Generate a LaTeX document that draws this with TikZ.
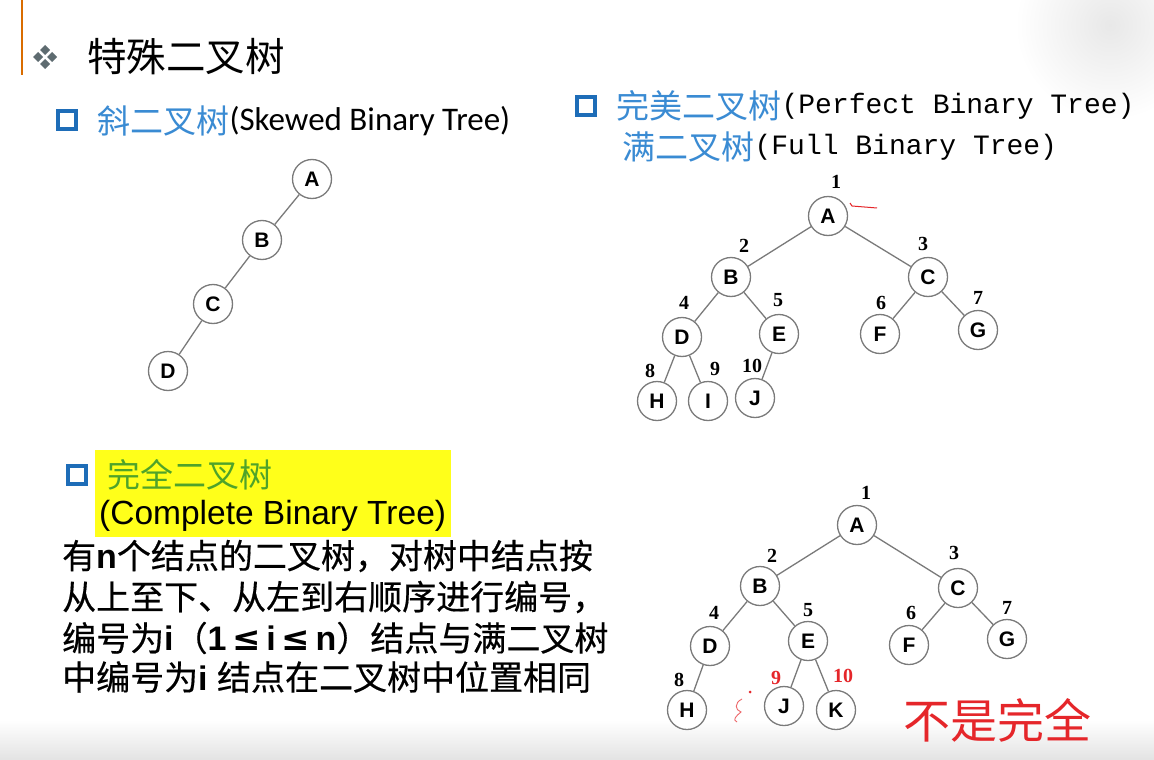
\documentclass[tikz,border=0pt]{standalone}
\usepackage{fontspec}
\usetikzlibrary{calc}
\setmainfont{Liberation Sans}
\newfontfamily\cjk{Noto Sans CJK SC}
\newfontfamily\cjkheavy{Noto Sans CJK SC}[FakeBold=0.45]
\newfontfamily\symf{DejaVu Sans}
\newfontfamily\monof{Liberation Mono}
\newfontfamily\numf{Liberation Serif}
\newfontfamily\calib{Carlito}
\definecolor{headblue}{HTML}{3A8BD3}
\definecolor{boxblue}{HTML}{1E6DB8}
\definecolor{leafgreen}{HTML}{4FA32A}
\definecolor{hilite}{HTML}{FFFF1A}
\definecolor{markred}{HTML}{E5262A}
\definecolor{ringgray}{HTML}{7A7A7A}
\definecolor{bulletgray}{HTML}{5E6B70}
\newcommand{\lat}[1]{{\fontspec{Liberation Sans}\bfseries #1}}
\newcommand{\lesym}{{\symf\bfseries ≤}}
\tikzset{
  tn/.style={circle, draw=ringgray, line width=1.3pt, fill=white,
    minimum size=39pt, inner sep=0pt,
    font=\bfseries\fontsize{21}{21}\selectfont},
  link/.style={draw=ringgray, line width=1.3pt},
  num/.style={inner sep=0pt, font=\numf\bfseries\fontsize{20}{20}\selectfont},
  rednum/.style={num, text=markred},
  sqbox/.style={draw=boxblue, line width=3.6pt, fill=white},
  cjkhead/.style={anchor=west, inner sep=0pt, text=headblue,
    font=\cjk\fontsize{33}{33}\selectfont},
  body/.style={anchor=west, inner sep=0pt,
    font=\cjkheavy\fontsize{34}{34}\selectfont},
}
\begin{document}
\begin{tikzpicture}[x=1pt,y=-1pt]
\useasboundingbox (0,0) rectangle (1154,760);
\fill[white] (0,0) rectangle (1154,760);
% soft grey margins of the slide
\shade[top color=white, bottom color=gray!22] (0,720) rectangle (1154,760);
\shade[inner color=gray!18, outer color=white] (1110,25) circle (95);

% title bar
\draw[draw=orange!85!black, line width=2pt] (22,0) -- (22,75);
\foreach \dx/\dy in {0/-7,-7/0,7/0,0/7}
  \fill[bulletgray] ($(45,57)+(\dx,\dy)$) +(0,-5) -- +(5,0) -- +(0,5) -- +(-5,0) -- cycle;
\node[anchor=west, inner sep=0pt, font=\cjk\fontsize{39.5}{39.5}\selectfont] (title) at (87,57) {特殊二叉树};

% skewed binary tree
\draw[sqbox] (58,111) rectangle (76,129);
\node[cjkhead] (skh) at (97,121) {斜二叉树};
\node[anchor=west, inner sep=0pt, font=\calib\fontsize{33}{33}\selectfont] (ske) at (skh.east) {(Skewed Binary Tree)};

\node[tn] (sA) at (312,179) {A};
\node[tn] (sB) at (262,240) {B};
\node[tn] (sC) at (213,304) {C};
\node[tn] (sD) at (168,371) {D};
\draw[link] (sA) -- (sB);
\draw[link] (sB) -- (sC);
\draw[link] (sC) -- (sD);

% perfect / full binary tree
\draw[sqbox] (577,97) rectangle (595,115);
\node[cjkhead] (pfh) at (616,106) {完美二叉树};
\node[anchor=west, inner sep=0pt, font=\monof\fontsize{28}{28}\selectfont] (pfe) at (pfh.east) {(Perfect Binary Tree)};
\node[cjkhead] (flh) at (622,147) {满二叉树};
\node[anchor=west, inner sep=0pt, font=\monof\fontsize{28}{28}\selectfont] (fle) at (flh.east) {(Full Binary Tree)};

\node[tn] (pA) at (828,216) {A};
\node[tn] (pB) at (731,277) {B};
\node[tn] (pC) at (928,277) {C};
\node[tn] (pD) at (682,337) {D};
\node[tn] (pE) at (779,334) {E};
\node[tn] (pF) at (880,334) {F};
\node[tn] (pG) at (978,330) {G};
\node[tn] (pH) at (657,401) {H};
\node[tn] (pI) at (708,401) {I};
\node[tn] (pJ) at (755,398) {J};
\foreach \a/\b in {pA/pB,pA/pC,pB/pD,pB/pE,pC/pF,pC/pG,pD/pH,pD/pI,pE/pJ}
  \draw[link] (\a) -- (\b);
\node[num] (pn1) at (836,182) {1};
\node[num] (pn2) at (744,246) {2};
\node[num] (pn3) at (923,244) {3};
\node[num] (pn4) at (684,303) {4};
\node[num] (pn5) at (778,300) {5};
\node[num] (pn6) at (881,303) {6};
\node[num] (pn7) at (978,298) {7};
\node[num] (pn8) at (650,371) {8};
\node[num] (pn9) at (715,369) {9};
\node[num] (pn10) at (752,366) {10};
% hand-drawn pointer beside the root
\coordinate (ptrA) at (852,206);
\coordinate (ptrB) at (877,208);
\draw[markred, line width=1pt] ($(ptrA)+(-2,-3)$) -- (ptrA) -- (ptrB);

% complete binary tree
\fill[hilite] (95,450) rectangle (451,537);
\draw[sqbox] (68,466) rectangle (86,484);
\node[cjkhead, text=leafgreen] (cph) at (107,475) {完全二叉树};
\node[anchor=west, inner sep=0pt, font=\fontsize{33.5}{33.5}\selectfont] (cpe) at (99,516) {(Complete Binary Tree)};

\node[body] (l1) at (62,556) {有\lat{n}个结点的二叉树，对树中结点按};
\node[body] (l2) at (62,597) {从上至下、从左到右顺序进行编号，};
\node[body] (l3) at (62,638) {编号为\lat{i}（\lat{1\,}\lesym\lat{\,i\,}\lesym\lat{\,n}）结点与满二叉树};
\node[body] (l4) at (62,677) {中编号为\lat{i }结点在二叉树中位置相同};

\node[tn] (cA) at (857,525) {A};
\node[tn] (cB) at (760,586) {B};
\node[tn] (cC) at (958,588) {C};
\node[tn] (cD) at (710,646) {D};
\node[tn] (cE) at (808,641) {E};
\node[tn] (cF) at (909,645) {F};
\node[tn] (cG) at (1007,639) {G};
\node[tn] (cH) at (687,710) {H};
\node[tn] (cJ) at (784,706) {J};
\node[tn] (cK) at (836,710) {K};
\foreach \a/\b in {cA/cB,cA/cC,cB/cD,cB/cE,cC/cF,cC/cG,cD/cH,cE/cJ,cE/cK}
  \draw[link] (\a) -- (\b);
\node[num] (cn1) at (866,493) {1};
\node[num] (cn2) at (772,556) {2};
\node[num] (cn3) at (954,553) {3};
\node[num] (cn4) at (714,613) {4};
\node[num] (cn5) at (808,610) {5};
\node[num] (cn6) at (911,613) {6};
\node[num] (cn7) at (1007,608) {7};
\node[num] (cn8) at (679,680) {8};
\node[rednum] (cn9) at (776,678) {9};
\node[rednum] (cn10) at (843,676) {10};
% pen scribble where node 9 would be
\draw[markred!70, line width=0.9pt] (742,699) .. controls (734,703) and (735,710) .. (741,712)
  .. controls (736,716) and (732,720) .. (737,722);
\fill[markred] (750,692) circle (1.5);

\node[anchor=west, inner sep=0pt, text=markred, font=\cjk\fontsize{47}{47}\selectfont] (verdict) at (903,720) {不是完全};
\end{tikzpicture}
\end{document}
